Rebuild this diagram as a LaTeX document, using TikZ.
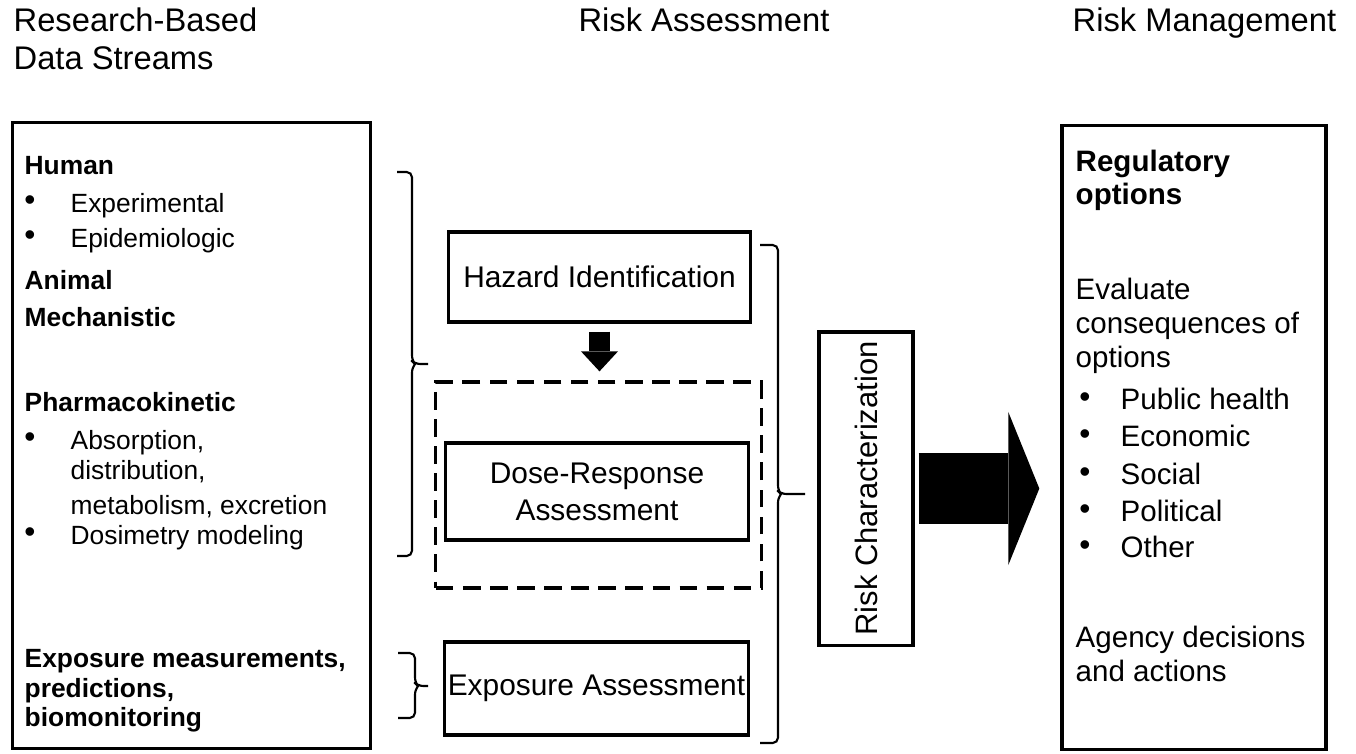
\documentclass[tikz,border=0pt]{standalone}
\usepackage{fontspec}
\setmainfont{Liberation Sans}
\usetikzlibrary{arrows.meta, positioning, calc}

\begin{document}
\begin{tikzpicture}[
    x=0.01cm, y=-0.01cm,
    panel/.style={draw, line width=0.9pt, inner sep=0pt},
    stage/.style={draw, line width=0.9pt, inner sep=0pt, align=center, font=\fontsize{8.5}{10.5}\selectfont},
    dashbox/.style={draw, line width=0.9pt, dash pattern=on 5pt off 2.7pt, inner sep=0pt},
    head/.style={anchor=mid west, inner sep=0pt, align=left, font=\fontsize{9.3}{11}\selectfont},
    litem/.style={anchor=mid west, inner sep=0pt, font=\fontsize{7.5}{9}\selectfont},
    lbold/.style={litem, font=\fontsize{7.5}{9}\selectfont\bfseries},
    ritem/.style={anchor=mid west, inner sep=0pt, font=\fontsize{8.4}{10}\selectfont},
    rbold/.style={ritem, font=\fontsize{8.4}{10}\selectfont\bfseries},
    dot/.style={anchor=center, inner sep=0pt, font=\fontsize{9}{9}\selectfont},
    brace/.style={line width=0.6pt, rounded corners=1.5pt}
]
\useasboundingbox (0,0) rectangle (1356,753);

% -------- Column headers --------
\node[head] (hdata) at (13,22) {Research-Based};
\node[head] (hdata2) at (13,60) {Data Streams};
\node[head, anchor=mid] (hassess) at (704,22) {Risk Assessment};
\node[head] (hmgmt) at (1072,22) {Risk Management};

% -------- Panels --------
\node[panel, minimum width=3.57cm, minimum height=6.25cm] (data) at (191.5,435.5) {};
\node[panel, minimum width=2.64cm, minimum height=6.23cm] (mgmt) at (1194,437.5) {};

% -------- Assessment steps --------
\node[stage, minimum width=3.01cm, minimum height=0.9cm] (haz) at (599.5,277) {Hazard Identification};
\node[dashbox, minimum width=3.25cm, minimum height=2.06cm] (drbox) at (598.5,485) {};
\node[stage, minimum width=3.02cm, minimum height=0.97cm] (dose) at (597,491.5) {Dose-Response\\Assessment};
\node[stage, minimum width=3.03cm, minimum height=0.93cm] (expo) at (596.5,688.5) {Exposure Assessment};
\node[stage, minimum width=0.94cm, minimum height=3.13cm, font=\fontsize{8.8}{10}\selectfont]
    (rchar) at (866,488.5) {\rotatebox{90}{Risk Characterization}};

% -------- Block arrows --------
\draw[line width=0.2cm, -{Triangle[length=0.2cm, width=0.37cm, line width=0pt]},
      shorten <=0.08cm, shorten >=0.09cm] (haz) -- (haz |- drbox.north);
\draw[line width=0.71cm, -{Triangle[length=0.31cm, width=1.53cm, line width=0pt]},
      shorten <=0.04cm, shorten >=0.21cm] (rchar) -- (rchar -| mgmt.west);

% -------- Braces --------
\foreach \xa/\xb/\xc/\yt/\ym/\yb in {397/412/428/172/364/556, 398/415/428/653/686/718, 760/778/805/245/494/743}
    \draw[brace] (\xa,\yt) -- (\xb,\yt) -- (\xb,\ym-3) -- (\xb+3,\ym) -- (\xc,\ym)
                 (\xb+3,\ym) -- (\xb,\ym+3) -- (\xb,\yb) -- (\xa,\yb);

% -------- Left panel text --------
\foreach \y/\t [count=\i] in {165/Human, 280/Animal, 317/Mechanistic, 402/Pharmacokinetic,
        658/{Exposure measurements,}, 688/{predictions,}, 717/biomonitoring}
    \node[lbold] (lh\i) at (24,\y) {\t};
\foreach \y/\t [count=\i] in {203/Experimental, 238/Epidemiologic, 440/{Absorption,}, 535/Dosimetry modeling} {
    \node[dot] (lb\i) at (30,\y) {\textbullet};
    \node[litem] (li\i) at (70,\y) {\t};
}
\node[litem] (li5) at (70,470) {distribution,};
\node[litem] (li6) at (70,505) {metabolism, excretion};

% -------- Right panel text --------
\foreach \y/\t [count=\i] in {162/Regulatory, 195/options}
    \node[rbold] (rh\i) at (1075,\y) {\t};
\foreach \y/\t [count=\i] in {290/Evaluate, 324/consequences of, 358/options, 638/Agency decisions, 672/and actions}
    \node[ritem] (rt\i) at (1075,\y) {\t};
\foreach \y/\t [count=\i] in {400/Public health, 437/Economic, 475/Social, 512/Political, 548/Other} {
    \node[dot] (rb\i) at (1085,\y) {\textbullet};
    \node[ritem] (ri\i) at (1120,\y) {\t};
}

\end{tikzpicture}
\end{document}
